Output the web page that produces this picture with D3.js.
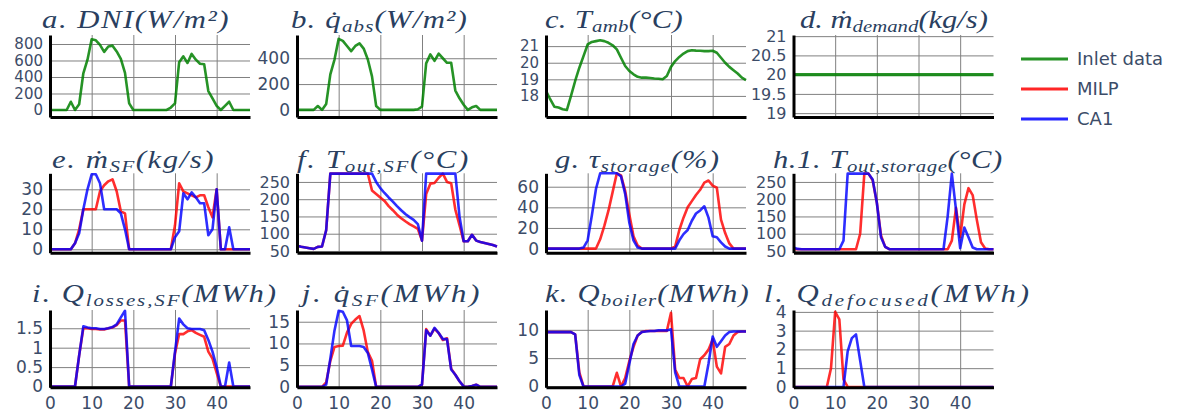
<!DOCTYPE html>
<html><head><meta charset="utf-8">
<script src="https://cdn.jsdelivr.net/npm/d3@7"></script>
<style>body{margin:0;background:#fff;} svg{display:block;}</style>
</head><body><svg id="c" width="1177" height="417"></svg>
<script>
// ---------- data ----------
const hours = [0,1,2,3,4,5,6,7,8,9,10,11,12,13,14,15,16,17,18,19,20,21,22,23,24,25,26,27,28,29,30,31,32,33,34,35,36,37,38,39,40,41,42,43,44,45,46,47,48];
const xTickValues = [0,10,20,30,40];
const seriesNames = ["Inlet data","MILP","CA1"];

const dni = [0,0,0,0,0,100,0,70,445,610,857,845,790,705,770,780,710,620,450,80,0,0,0,0,0,0,0,0,0,30,80,580,650,570,680,610,560,555,230,140,50,0,50,100,0,0,0,0,0];
const qAbs = [0,0,0,0,0,30,0,45,275,390,550,535,495,455,495,515,475,390,260,30,0,0,0,0,0,0,0,0,0,5,25,360,430,380,435,400,365,365,150,90,40,0,20,30,0,0,0,0,0];
const tAmb = [18.3,17.8,17.35,17.3,17.2,17.15,18.0,18.9,19.7,20.4,21.1,21.25,21.3,21.35,21.3,21.2,21.05,20.8,20.3,19.8,19.5,19.3,19.15,19.1,19.1,19.08,19.05,19.03,19.0,19.2,19.75,20.1,20.35,20.55,20.7,20.75,20.73,20.72,20.7,20.7,20.72,20.6,20.3,20.0,19.75,19.55,19.35,19.1,18.95];
const mDemand = [20,20,20,20,20,20,20,20,20,20,20,20,20,20,20,20,20,20,20,20,20,20,20,20,20,20,20,20,20,20,20,20,20,20,20,20,20,20,20,20,20,20,20,20,20,20,20,20,20];

const mSF_milp = [0,0,0,0,0,0,3,10,20,20,20,20,29,32,34,35,29,19,18,0,0,0,0,0,0,0,0,0,0,0,12,33,29,28,27,26,27,27,21,16,30,0,0,0,0,0,0,0,0];
const mSF_ca1 = [0,0,0,0,0,0,3,8,20,30,37.5,37.5,33,20,20,20,20,18,10,0,0,0,0,0,0,0,0,0,0,0,6,9,28,25,28.5,26,23,23,7,10,30,0,0,11,0,0,0,0,0];

const tOutSF_milp = [65,62,60,58,56,62,63,110,274,274,274,274,274,274,274,274,274,274,225,215,205,195,180,168,155,145,136,128,121,114,80,215,245,247,262,274,250,246,170,125,78,78,97,80,76,73,70,67,63];
const tOutSF_ca1 = [65,62,60,58,56,62,63,110,274,274,274,274,274,274,274,274,274,274,274,250,232,218,205,193,180,168,157,148,140,128,80,274,274,274,274,274,274,274,274,150,78,78,97,80,76,73,70,67,63];

const tau_milp = [0,0,0,0,0,0,0,0,0,0,0,0,0,9,22,37,55,73,71,56,33,12,3,0,0,0,0,0,0,0,0,2,18,30,40,46,52,57,64,66,61,59,28,15,5,0,0,0,0];
const tau_ca1 = [0,0,0,0,0,0,0,0,0,1,8,32,58,73,73,73,73,73,70,53,25,8,1,0,0,0,0,0,0,0,0,0,8,14,18,27,34,37,41,30,12,11,6,2,0,0,0,0,0];

const tOutSt_milp = [55,55,55,55,55,55,55,55,55,55,55,55,55,55,55,55,100,274,274,255,190,95,62,55,55,55,55,55,55,55,55,55,55,55,55,55,55,55,80,175,90,185,232,212,140,75,57,55,55];
const tOutSt_ca1 = [60,56,55,55,55,55,55,55,55,55,55,55,80,274,274,274,274,274,274,257,190,90,62,55,55,55,55,55,55,55,55,55,55,55,55,55,55,150,274,170,58,118,90,60,55,55,55,55,55];

const qLoss_milp = [0,0,0,0,0,0,0,0.8,1.5,1.5,1.48,1.48,1.47,1.47,1.5,1.52,1.58,1.7,1.7,0,0,0,0,0,0,0,0,0,0,0,0.85,1.35,1.35,1.42,1.45,1.38,1.33,1.28,0.9,0.72,0.35,0,0,0,0,0,0,0,0];
const qLoss_ca1 = [0,0,0,0,0,0,0,0.8,1.55,1.52,1.5,1.5,1.48,1.48,1.5,1.53,1.6,1.78,1.95,0,0,0,0,0,0,0,0,0,0,0,0.9,1.75,1.6,1.5,1.48,1.48,1.48,1.45,1.2,0.9,0.5,0,0,0.62,0,0,0,0,0];

const qSF_milp = [0,0,0,0,0,0,0,1,6,9.2,9.4,9.5,12.5,14.5,15.5,16.3,13,8,6,0,0,0,0,0,0,0,0,0,0,0,0.5,13.3,11.8,13.4,12.4,10.8,11.2,4.2,2.8,1.3,0.1,0,0.2,0.5,0,0,0,0,0];
const qSF_ca1 = [0,0,0,0,0,0,0,0.5,6.5,13,17.5,17.3,15.3,9.4,9.4,9.4,9.2,7.8,4,0,0,0,0,0,0,0,0,0,0,0,0.5,13,11.8,13.6,12.4,11,11,4,2.8,1.3,0.1,0,0.2,0.5,0,0,0,0,0];

const qBoiler_milp = [9.6,9.6,9.6,9.6,9.6,9.6,9.6,9.2,2.5,0,0,0,0,0,0,0,0,2.4,0,1.5,4.5,7,9,9.6,9.8,9.8,9.8,9.8,9.8,9.8,13,3,1.5,1.5,0,1.3,1.5,4.8,5.5,6.5,8.3,3.5,2.3,7,7.5,9,9.6,9.7,9.7];
const qBoiler_ca1 = [9.6,9.6,9.6,9.6,9.6,9.6,9.6,9.2,2,0,0,0,0,0,0,0,0,0,0,0.5,4,7.5,9,9.6,9.7,9.8,9.8,9.9,9.9,9.9,10.1,2.5,0,0,0,0,0,0,0,4,8.8,7,8,9,9.6,9.7,9.7,9.7,9.7];

const qDef_milp = [0,0,0,0,0,0,0,0,0,1,4,3.6,0.4,0,0,0,0,0,0,0,0,0,0,0,0,0,0,0,0,0,0,0,0,0,0,0,0,0,0,0,0,0,0,0,0,0,0,0,0];
const qDef_ca1 = [0,0,0,0,0,0,0,0,0,0,0,0,0,1.9,2.6,2.8,1.4,0,0,0,0,0,0,0,0,0,0,0,0,0,0,0,0,0,0,0,0,0,0,0,0,0,0,0,0,0,0,0,0];

// tick labels per panel
const ticksA = [0,200,400,600,800];
const ticksB = [0,200,400];
const ticksC = [18,19,20,21];
const ticksD = [19,19.5,20,20.5,21];
const ticksE = [0,10,20,30];
const ticksF = [50,100,150,200,250];
const ticksG = [0,20,40,60];
const ticksH = [50,100,150,200,250];
const ticksI = [0,0.5,1,1.5];
const ticksJ = [0,5,10,15];
const ticksK = [0,5,10];
const ticksL = [0,1,2,3,4];

// titles: [text, 'n' normal | 's' subscript]
const titleA = [["a.  DNI","n"],["(W/m²)","n"]];
const titleB = [["b.  q\u0307","n"],["abs","s"],["(W/m²)","n"]];
const titleC = [["c.  T","n"],["amb","s"],["(°C)","n"]];
const titleD = [["d. ṁ","n"],["demand","s"],["(kg/s)","n"]];
const titleE = [["e.  ṁ","n"],["SF","s"],["(kg/s)","n"]];
const titleF = [["f.  T","n"],["out,SF","s"],["(°C)","n"]];
const titleG = [["g.  τ","n"],["storage","s"],["(%)","n"]];
const titleH = [["h.1.  T","n"],["out,storage","s"],["(°C)","n"]];
const titleI = [["i.  Q","n"],["losses,SF","s"],["(MWh)","n"]];
const titleJ = [["j.  q\u0307","n"],["SF","s"],["(MWh)","n"]];
const titleK = [["k.  Q","n"],["boiler","s"],["(MWh)","n"]];
const titleL = [["l.  Q","n"],["defocused","s"],["(MWh)","n"]];

// ---------- styling / layout ----------
const COLORS = {inlet:"#008000", milp:"#ff0000", ca1:"#0000ff"};
const colLeft = [50, 297, 546, 793.5];
const plotW = 200;
const rowTop = [35, 173.3, 310];
const rowBot = [117, 252.7, 387.3];
const titleBase = [28, 168, 302];
const tickFont = '"DejaVu Sans", Verdana, sans-serif';
const tickColor = "#3c4c68";

const panels = [
  {col:0,row:0,dom:[-85,909],ticks:ticksA,series:[[dni,"inlet"]],title:titleA,tx:[42,230],fs:15},
  {col:1,row:0,dom:[-55,580],ticks:ticksB,series:[[qAbs,"inlet"]],title:titleB,tx:[291,468]},
  {col:2,row:0,dom:[16.73,21.67],ticks:ticksC,series:[[tAmb,"inlet"]],title:titleC,tx:[545,683],fs:15},
  {col:3,row:0,dom:[18.9,21.03],ticks:ticksD,series:[[mDemand,"inlet"]],title:titleD,tx:[800,988],lw:3.2,fs:16},
  {col:0,row:1,dom:[-1.7,38],ticks:ticksE,series:[[mSF_milp,"milp"],[mSF_ca1,"ca1"]],title:titleE,tx:[52,215]},
  {col:1,row:1,dom:[45,275],ticks:ticksF,series:[[tOutSF_milp,"milp"],[tOutSF_ca1,"ca1"]],title:titleF,tx:[297,470],fs:16},
  {col:2,row:1,dom:[-4,73],ticks:ticksG,series:[[tau_milp,"milp"],[tau_ca1,"ca1"]],title:titleG,tx:[555,720]},
  {col:3,row:1,dom:[45,275],ticks:ticksH,series:[[tOutSt_milp,"milp"],[tOutSt_ca1,"ca1"]],title:titleH,tx:[773,1003],fs:16},
  {col:0,row:2,dom:[-0.02,1.97],ticks:ticksI,series:[[qLoss_milp,"milp"],[qLoss_ca1,"ca1"]],title:titleI,tx:[32,278]},
  {col:1,row:2,dom:[-0.1,17.7],ticks:ticksJ,series:[[qSF_milp,"milp"],[qSF_ca1,"ca1"]],title:titleJ,tx:[298,482]},
  {col:2,row:2,dom:[-0.15,13.5],ticks:ticksK,series:[[qBoiler_milp,"milp"],[qBoiler_ca1,"ca1"]],title:titleK,tx:[545,750]},
  {col:3,row:2,dom:[-0.02,4.1],ticks:ticksL,series:[[qDef_milp,"milp"],[qDef_ca1,"ca1"]],title:titleL,tx:[764,1032]},
];

const svg = d3.select("#c");
svg.append("rect").attr("width",1177).attr("height",417).attr("fill","#fff");

function styleTicks(sel, fs){
  sel.selectAll("text").attr("font-family",tickFont).attr("font-size",fs||17).attr("fill",tickColor);
}

panels.forEach(p => {
  const x0 = colLeft[p.col], y0 = rowTop[p.row], y1 = rowBot[p.row];
  const x = d3.scaleLinear().domain([0,48]).range([x0, x0+plotW]);
  const y = d3.scaleLinear().domain(p.dom).range([y1, y0]);
  const g = svg.append("g");

  // grid
  const gx = g.append("g").attr("transform",`translate(0,${y1})`)
    .call(d3.axisBottom(x).tickValues(xTickValues.filter(v=>v>0)).tickSize(-(y1-y0)).tickFormat(""));
  gx.select(".domain").remove();
  gx.selectAll("line").attr("stroke","#808080").attr("stroke-width",1);
  const gy = g.append("g").attr("transform",`translate(${x0},0)`)
    .call(d3.axisLeft(y).tickValues(p.ticks).tickSize(-plotW).tickFormat(""));
  gy.select(".domain").remove();
  gy.selectAll("line").attr("stroke","#808080").attr("stroke-width",1);

  // data
  p.series.forEach(([vals, key]) => {
    const line = d3.line().x((d,i)=>x(hours[i])).y(d=>y(d));
    g.append("path").datum(vals).attr("d",line).attr("fill","none")
      .attr("stroke",COLORS[key]).attr("stroke-width",p.lw||2.6)
      .attr("stroke-opacity", key==="inlet"?0.85:0.82)
      .attr("stroke-linejoin","round");
  });

  // axes
  const ay = g.append("g").attr("transform",`translate(${x0},0)`)
    .call(d3.axisLeft(y).tickValues(p.ticks).tickSize(0).tickSizeOuter(0).tickPadding(7).tickFormat(d=>String(d)));
  ay.select(".domain").attr("stroke","#000").attr("stroke-width",3);
  styleTicks(ay, p.fs);
  const ax = g.append("g").attr("transform",`translate(0,${y1})`)
    .call(d3.axisBottom(x).tickValues(xTickValues).tickSize(0).tickSizeOuter(0).tickPadding(10)
      .tickFormat(p.row===2 ? (d=>String(d)) : ""));
  ax.select(".domain").attr("stroke","#000").attr("stroke-width",3);
  styleTicks(ax, 17);

  // title
  drawTitle(p.title, p.tx[0], p.tx[1], titleBase[p.row]);
});

function drawTitle(parts, xs, xe, base){
  const grp = svg.append("g");
  const t = grp.append("text").attr("x",0).attr("y",0)
    .attr("font-family",'"Liberation Serif","DejaVu Serif",serif')
    .attr("font-style","italic").attr("font-size",25).attr("fill","#2a3f5f");
  let sub = false, n = 0;
  parts.forEach(([s,k]) => {
    const ts = t.append("tspan").text(s);
    n += s.length;
    if (k==="s" && !sub){ ts.attr("font-size",17).attr("dy",4); sub=true; }
    else if (k!=="s" && sub){ ts.attr("dy",-4); sub=false; }
  });
  const target = xe - xs;
  let bb = t.node().getBBox();
  const s1 = Math.min(1.22, target/bb.width);
  const ls = Math.max(0,(target/s1 - bb.width)/n);
  t.attr("letter-spacing", ls);
  bb = t.node().getBBox();
  const sx = target/bb.width;
  grp.attr("transform",`translate(${xs - bb.x*sx},${base}) scale(${sx},1)`);
}

// legend
const legend = svg.append("g");
const legKeys = ["inlet","milp","ca1"];
const legY = d3.scalePoint().domain(seriesNames).range([59,119]);
seriesNames.forEach((name,i) => {
  legend.append("line").attr("x1",1021).attr("x2",1068).attr("y1",legY(name)).attr("y2",legY(name))
    .attr("stroke",COLORS[legKeys[i]]).attr("stroke-width",3).attr("stroke-opacity",0.85);
  legend.append("text").attr("x",1077).attr("y",legY(name)).attr("dy","0.35em")
    .attr("font-family",tickFont).attr("font-size",18).attr("fill",tickColor).text(name);
});
</script>
</body></html>
